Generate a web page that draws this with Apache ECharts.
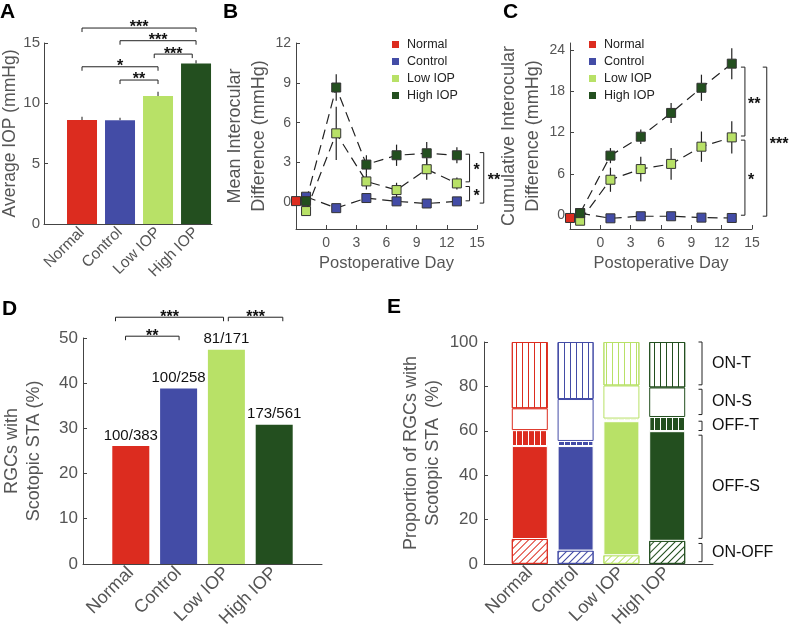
<!DOCTYPE html>
<html lang="en">
<head>
<meta charset="utf-8">
<title>IOP figure</title>
<script src="https://cdn.jsdelivr.net/npm/echarts@6/dist/echarts.min.js"></script>
<style>
  html, body { margin: 0; padding: 0; background: #fff; }
  #main { width: 789px; height: 630px; }
</style>
</head>
<body>
<div id="main"></div>
<script type="text/javascript">
// ---- data ----
var groups = ['Normal', 'Control', 'Low IOP', 'High IOP'];
var colors = ['#dc2c1f', '#434ca6', '#b8e167', '#234f1f'];

// A: average IOP (mmHg) and error
var avgIop = [8.62, 8.6, 10.6, 13.3];
var avgIopErr = [0.27, 0.2, 0.36, 0.28];
// significance brackets: [from, to, height, label]
var sigA = [[1, 4, 16.24, '***'], [2, 4, 15.19, '***'], [2.9, 3.9, 14.08, '***'], [1, 3, 13.03, '*'], [2, 3, 11.93, '**']];

// B / C: postoperative days
var days = [-2, 1, 4, 7, 10, 13];
var normalDay = -3;

var meanNormal = [0.1], meanNormalErr = [0.1];
var meanControl = [0.43, -0.43, 0.33, 0.08, -0.08, 0.08];
var meanControlErr = [0.15, 0.15, 0.15, 0.15, 0.15, 0.15];
var meanLow = [-0.65, 5.2, 1.58, 0.93, 2.5, 1.43];
var meanLowErr = [0.35, 2.0, 0.6, 0.55, 0.8, 0.45];
var meanHigh = [0.1, 8.65, 2.85, 3.55, 3.7, 3.55];
var meanHighErr = [0.35, 1.0, 0.7, 0.8, 0.85, 0.6];
// vertical brackets: [x, yFrom, yTo, label]
var sigB = [[14.26, 3.63, 1.55, '*'], [14.26, 1.2, 0.12, '*'], [15.67, 3.75, -0.05, '**']];

var cumNormal = [-0.4], cumNormalErr = [0.2];
var cumControl = [0.3, -0.45, -0.15, -0.15, -0.35, -0.4];
var cumControlErr = [0.2, 0.2, 0.25, 0.25, 0.25, 0.25];
var cumLow = [-0.8, 5.15, 6.7, 7.45, 9.95, 11.3];
var cumLowErr = [0.35, 1.75, 1.8, 2.3, 2.2, 2.35];
var cumHigh = [0.3, 8.65, 11.4, 14.85, 18.5, 22.0];
var cumHighErr = [0.3, 1.1, 1.05, 1.45, 1.9, 2.25];
var sigC = [[14.3, 21.5, 11.5, '**'], [14.3, 10.9, 0.0, '*'], [16.46, 21.5, -0.14, '***']];

// D: RGCs with scotopic STA (%)
var rgcPct = [26.1, 38.8, 47.4, 30.8];
var rgcLabels = ['100/383', '100/258', '81/171', '173/561'];
var sigD = [[0.68, 2.94, 54.6, '***'], [3.04, 4.18, 54.6, '***'], [0.89, 2.01, 50.4, '**']];

// E: proportion of response types (%), bottom to top
var propOnOff = [11.2, 6.0, 3.9, 10.4];
var propOffS = [41.9, 47.1, 60.4, 49.4];
var propOffT = [7.2, 2.3, 1.2, 6.4];
var propOnS = [9.8, 18.9, 14.9, 13.3];
var propOnT = [29.9, 25.7, 19.6, 20.5];
var sigE = [[4.76, 100, 80.7, 'ON-T'], [4.76, 78.7, 67.3, 'ON-S'], [4.76, 64.3, 60.1, 'OFF-T'], [4.76, 58, 11.5, 'OFF-S'], [4.76, 9.2, 1.0, 'ON-OFF']];

// ---- helpers ----
var FONT = "'Liberation Sans', Arial, Helvetica, sans-serif";
var axisColor = '#444';
var textColor = '#555';

function seg(x1, y1, x2, y2, color, w) {
    return { type: 'line', shape: { x1: x1, y1: y1, x2: x2, y2: y2 }, style: { stroke: color || '#222', lineWidth: w || 1 } };
}

function hBracket(list, tick) {
    return function (params, api) {
        var s = list[params.dataIndex];
        var a = api.coord([s[0], s[2]]);
        var b = api.coord([s[1], s[2]]);
        return {
            type: 'group',
            children: [
                { type: 'polyline', shape: { points: [[a[0], a[1] + tick], [a[0], a[1]], [b[0], b[1]], [b[0], b[1] + tick]] },
                  style: { stroke: '#222', lineWidth: 1, fill: null } },
                { type: 'text', x: (a[0] + b[0]) / 2, y: a[1] + 8,
                  style: { text: s[3], align: 'center', verticalAlign: 'bottom', font: 'bold 16px ' + FONT, fill: '#111' } }
            ]
        };
    };
}

function vBracket(list, tick, gap, font, dy) {
    return function (params, api) {
        var s = list[params.dataIndex];
        var a = api.coord([s[0], s[1]]);
        var b = api.coord([s[0], s[2]]);
        return {
            type: 'group',
            children: [
                { type: 'polyline', shape: { points: [[a[0] - tick, a[1]], [a[0], a[1]], [b[0], b[1]], [b[0] - tick, b[1]]] },
                  style: { stroke: '#222', lineWidth: 1, fill: null } },
                { type: 'text', x: a[0] + gap, y: (a[1] + b[1]) / 2 + dy,
                  style: { text: s[3], align: 'left', verticalAlign: 'middle', font: font, fill: '#111' } }
            ]
        };
    };
}

function pointErr(params, api) {
    var x = api.value(0), y = api.value(1), e = api.value(2);
    var c = api.coord([x, y]);
    var top = api.coord([x, y + e]);
    var bot = api.coord([x, y - e]);
    var h = 4.5;
    var kids = [];
    if (top[1] < c[1] - h) kids.push(seg(c[0], top[1], c[0], c[1] - h, '#222', 1.2));
    if (bot[1] > c[1] + h) kids.push(seg(c[0], c[1] + h, c[0], bot[1], '#222', 1.2));
    kids.push(seg(c[0] - 1.5, c[1] - 3, c[0] - 1.5, c[1] + 3, '#222', 1));
    kids.push(seg(c[0] + 1.5, c[1] - 3, c[0] + 1.5, c[1] + 3, '#222', 1));
    return { type: 'group', children: kids };
}

function barErr(params, api) {
    var a = api.coord([api.value(0), api.value(1)]);
    var b = api.coord([api.value(0), api.value(1) + api.value(2)]);
    return seg(a[0], a[1], b[0], b[1], '#666', 1.5);
}

function pts(xs, ys, es) {
    return xs.map(function (d, i) { return [d, ys[i], es[i]]; });
}

function groupName(v) {
    return groups[Math.round(v) - 1] || '';
}

function valueAxis(grid, min, max, opts) {
    var ax = {
        gridIndex: grid, type: 'value', min: min, max: max,
        axisLine: { show: true, onZero: false, lineStyle: { color: axisColor, width: 1 } },
        axisTick: { show: true, inside: true, length: 4, lineStyle: { color: axisColor } },
        splitLine: { show: false },
        axisLabel: { color: textColor, fontFamily: FONT, fontSize: 14, margin: 5 },
        nameTextStyle: { color: textColor, fontFamily: FONT, fontSize: 17 }
    };
    for (var k in opts) {
        if (typeof opts[k] === 'object' && ax[k] && !Array.isArray(opts[k])) {
            for (var j in opts[k]) ax[k][j] = opts[k][j];
        } else {
            ax[k] = opts[k];
        }
    }
    return ax;
}

function groupAxis(grid, max, fontSize) {
    return valueAxis(grid, 0, max, {
        axisTick: { show: false },
        axisLabel: { customValues: [1, 2, 3, 4], formatter: groupName, rotate: 45, fontSize: fontSize, margin: 6 }
    });
}

var dayTicks = [0, 3, 6, 9, 12, 15];

function dayAxis(grid) {
    return valueAxis(grid, -3, 15, {
        axisTick: { customValues: dayTicks },
        axisLabel: { customValues: dayTicks, margin: 7 },
        name: 'Postoperative Day', nameLocation: 'middle', nameGap: 26,
        nameTextStyle: { fontSize: 16.5 }
    });
}

// ---- series ----
var series = [];

// A
series.push({
    type: 'bar', name: 'avg', xAxisIndex: 0, yAxisIndex: 0, barWidth: 30,
    data: avgIop.map(function (v, i) { return { value: [i + 1, v], itemStyle: { color: colors[i] } }; })
});
series.push({
    type: 'custom', name: 'avgErr', xAxisIndex: 0, yAxisIndex: 0, renderItem: barErr,
    data: avgIop.map(function (v, i) { return [i + 1, v, avgIopErr[i]]; })
});
series.push({
    type: 'custom', name: 'sigA', xAxisIndex: 0, yAxisIndex: 0, renderItem: hBracket(sigA, 4),
    data: sigA.map(function (s) { return [s[0], s[2]]; })
});

// B and C
function timeSeries(axis, name, color, data) {
    series.push({
        type: 'line', name: name, xAxisIndex: axis, yAxisIndex: axis, data: data,
        symbol: 'rect', symbolSize: 9,
        itemStyle: { color: color, borderColor: '#333', borderWidth: 1 },
        lineStyle: { color: '#222', width: 1.2, type: [10, 6] }
    });
    series.push({
        type: 'custom', name: name + '-err' + axis, xAxisIndex: axis, yAxisIndex: axis,
        renderItem: pointErr, data: data
    });
}
timeSeries(1, groups[0], colors[0], pts([normalDay], meanNormal, meanNormalErr));
timeSeries(1, groups[1], colors[1], pts(days, meanControl, meanControlErr));
timeSeries(1, groups[2], colors[2], pts(days, meanLow, meanLowErr));
timeSeries(1, groups[3], colors[3], pts(days, meanHigh, meanHighErr));
series.push({
    type: 'custom', name: 'sigB', xAxisIndex: 1, yAxisIndex: 1,
    renderItem: vBracket(sigB, 4, 4, 'bold 16px ' + FONT, 3),
    data: sigB.map(function (s) { return [s[0], s[1]]; })
});

timeSeries(2, groups[0], colors[0], pts([normalDay], cumNormal, cumNormalErr));
timeSeries(2, groups[1], colors[1], pts(days, cumControl, cumControlErr));
timeSeries(2, groups[2], colors[2], pts(days, cumLow, cumLowErr));
timeSeries(2, groups[3], colors[3], pts(days, cumHigh, cumHighErr));
series.push({
    type: 'custom', name: 'sigC', xAxisIndex: 2, yAxisIndex: 2,
    renderItem: vBracket(sigC, 4, 3, 'bold 16px ' + FONT, 3),
    data: sigC.map(function (s) { return [s[0], s[1]]; })
});

// D
series.push({
    type: 'bar', name: 'rgc', xAxisIndex: 3, yAxisIndex: 3, barWidth: 37,
    data: rgcPct.map(function (v, i) { return { value: [i + 1, v], itemStyle: { color: colors[i] } }; }),
    label: {
        show: true, position: 'top', distance: 3, color: '#111', fontFamily: FONT, fontSize: 15,
        formatter: function (p) { return rgcLabels[p.dataIndex]; }
    }
});
series.push({
    type: 'custom', name: 'sigD', xAxisIndex: 3, yAxisIndex: 3, renderItem: hBracket(sigD, 4),
    data: sigD.map(function (s) { return [s[0], s[2]]; })
});

// E: stacked response types with patterns (category axis, empty slots at both ends)
var eCats = [''].concat(groups, ['']);
function vLines(c) {
    return { symbol: 'rect', symbolSize: 1, dashArrayX: [1, 4.3], dashArrayY: [10, 0], rotation: 0, color: c };
}
function diagLines(c) {
    return { symbol: 'rect', symbolSize: 1, dashArrayX: [1, 4], dashArrayY: [10, 0], rotation: Math.PI / 4, color: c };
}
var eLayers = [
    { name: 'ON-OFF', vals: propOnOff, style: function (c) { return { color: '#fff', borderColor: c, borderWidth: 1, decal: diagLines(c) }; } },
    { name: 'OFF-S', vals: propOffS, style: function (c) { return { color: c, borderColor: '#fff', borderWidth: 1 }; } },
    { name: 'OFF-T', vals: propOffT, style: function (c) { return { color: c, borderColor: '#fff', borderWidth: 1, decal: vLines('#fff') }; } },
    { name: 'ON-S', vals: propOnS, style: function (c) { return { color: '#fff', borderColor: c, borderWidth: 1 }; } },
    { name: 'ON-T', vals: propOnT, style: function (c) { return { color: '#fff', borderColor: c, borderWidth: 1, decal: vLines(c) }; } }
];
eLayers.forEach(function (layer) {
    series.push({
        type: 'bar', name: 'E ' + layer.name, stack: 'types', xAxisIndex: 4, yAxisIndex: 4, barWidth: 36,
        data: [null].concat(layer.vals.map(function (v, i) { return { value: v, itemStyle: layer.style(colors[i]) }; }), [null])
    });
});
series.push({
    type: 'custom', name: 'sigE', xAxisIndex: 5, yAxisIndex: 4,
    renderItem: vBracket(sigE, 3.5, 10, '16px ' + FONT, 0),
    data: sigE.map(function (s) { return [s[0], s[1]]; })
});

var legendBase = {
    data: groups, orient: 'vertical', top: 33, icon: 'rect', itemWidth: 7, itemHeight: 7, itemGap: 4,
    selectedMode: false, itemStyle: { borderWidth: 0 },
    textStyle: { color: '#222', fontFamily: FONT, fontSize: 12.5, padding: [0, 0, 0, 3] }
};

var option = {
    animation: false,
    backgroundColor: '#fff',
    textStyle: { fontFamily: FONT },
    legend: [
        Object.assign({}, legendBase, { left: 387 }),
        Object.assign({}, legendBase, { left: 584 })
    ],
    grid: [
        { left: 44, top: 43, width: 168, height: 181 },
        { left: 296, top: 43, width: 181, height: 186 },
        { left: 570, top: 43, width: 182, height: 186 },
        { left: 83, top: 338, width: 239, height: 228 },
        { left: 484, top: 342, width: 229, height: 224 }
    ],
    xAxis: [
        groupAxis(0, 4.42, 15.5),
        dayAxis(1),
        dayAxis(2),
        groupAxis(3, 5, 18),
        {
            gridIndex: 4, type: 'category', data: eCats, boundaryGap: false,
            axisLine: { show: true, lineStyle: { color: axisColor, width: 1 } },
            axisTick: { show: false },
            axisLabel: { interval: 0, rotate: 45, color: textColor, fontFamily: FONT, fontSize: 18, margin: 6 }
        },
        // hidden value axis used to place the E brackets
        { gridIndex: 4, type: 'value', min: 0, max: 5, show: false }
    ],
    yAxis: [
        valueAxis(0, 0, 15, { interval: 5, axisLabel: { fontSize: 15, margin: 4 },
            name: 'Average IOP (mmHg)', nameLocation: 'middle', nameGap: 23, nameTextStyle: { fontSize: 17.5 } }),
        valueAxis(1, -2, 12, { axisTick: { customValues: [0, 3, 6, 9, 12] }, axisLabel: { customValues: [0, 3, 6, 9, 12] },
            name: 'Mean Interocular\nDifference (mmHg)', nameLocation: 'middle', nameGap: 24,
            nameTextStyle: { fontSize: 18, lineHeight: 24 } }),
        valueAxis(2, -2, 25, { axisTick: { customValues: [0, 6, 12, 18, 24] }, axisLabel: { customValues: [0, 6, 12, 18, 24] },
            name: 'Cumulative Interocular\nDifference (mmHg)', nameLocation: 'middle', nameGap: 16,
            nameTextStyle: { fontSize: 18, lineHeight: 24 } }),
        valueAxis(3, 0, 50, { interval: 10, axisLabel: { fontSize: 17 },
            name: 'RGCs with\nScotopic STA (%)', nameLocation: 'middle', nameGap: 38,
            nameTextStyle: { fontSize: 18, lineHeight: 22 } }),
        valueAxis(4, 0, 100, { interval: 20, axisLabel: { fontSize: 17, margin: 6 },
            name: 'Proportion of RGCs with\nScotopic STA  (%)', nameLocation: 'middle', nameGap: 40,
            nameTextStyle: { fontSize: 18, lineHeight: 22 } })
    ],
    graphic: [
        { type: 'text', left: 0, top: 2, style: { text: 'A', font: 'bold 21px ' + FONT, fill: '#000' } },
        { type: 'text', left: 223, top: 2, style: { text: 'B', font: 'bold 21px ' + FONT, fill: '#000' } },
        { type: 'text', left: 503, top: 2, style: { text: 'C', font: 'bold 21px ' + FONT, fill: '#000' } },
        { type: 'text', left: 2, top: 299, style: { text: 'D', font: 'bold 21px ' + FONT, fill: '#000' } },
        { type: 'text', left: 387, top: 297, style: { text: 'E', font: 'bold 21px ' + FONT, fill: '#000' } }
    ],
    series: series
};

var myChart = echarts.init(document.getElementById('main'));
myChart.setOption(option);
</script>
</body>
</html>
